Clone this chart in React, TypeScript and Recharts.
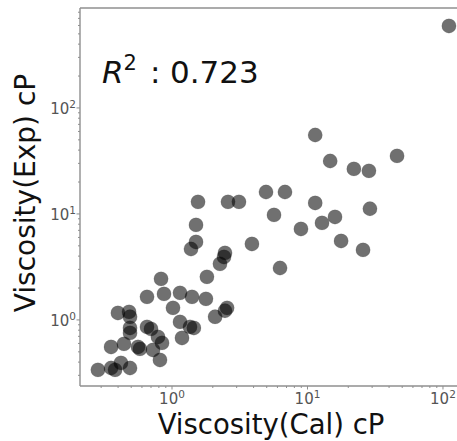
import React from 'react';
import { ScatterChart, Scatter, XAxis, YAxis, Customized } from 'recharts';

const calViscosity = [110.7, 11.4, 14.7, 22.0, 28.4, 45.8, 1.556, 2.59, 3.12, 4.94, 6.82, 11.4, 28.9, 15.96, 12.8, 5.66, 8.95, 17.7, 25.7, 1.504, 1.504, 1.381, 3.89, 2.46, 2.42, 2.26, 6.27, 1.81, 1.405, 1.78, 2.55, 2.46, 2.08, 1.358, 1.45, 0.83, 0.654, 0.873, 1.146, 0.399, 0.482, 0.49, 1.017, 0.49, 0.49, 0.654, 0.70, 0.788, 0.844, 1.146, 1.185, 0.355, 0.442, 0.561, 0.58, 0.724, 0.815, 0.284, 0.355, 0.38, 0.42, 0.49];
const expViscosity = [594, 55.6, 31.6, 26.6, 25.5, 35.3, 13.0, 13.0, 13.0, 16.1, 16.1, 12.7, 11.2, 9.37, 8.23, 9.79, 7.22, 5.56, 4.58, 7.88, 5.44, 4.67, 5.21, 4.29, 3.93, 3.38, 3.09, 2.55, 1.65, 1.58, 1.30, 1.22, 1.07, 0.859, 0.84, 2.44, 1.65, 1.76, 1.80, 1.164, 1.19, 1.07, 1.30, 0.84, 0.754, 0.859, 0.823, 0.691, 0.607, 0.958, 0.676, 0.556, 0.594, 0.556, 0.533, 0.521, 0.419, 0.338, 0.352, 0.338, 0.393, 0.352];

const xDomain = [0.2094, 126.9];
const yDomain = [0.238, 877];
const xTicks = [0.3, 0.4, 0.5, 0.6, 0.7, 0.8, 0.9, 1, 2, 3, 4, 5, 6, 7, 8, 9, 10, 20, 30, 40, 50, 60, 70, 80, 90, 100];
const yTicks = [0.3, 0.4, 0.5, 0.6, 0.7, 0.8, 0.9, 1, 2, 3, 4, 5, 6, 7, 8, 9, 10, 20, 30, 40, 50, 60, 70, 80, 90, 100, 200, 300, 400, 500, 600, 700, 800];

const r2Text = '0.723';
const xLabel = 'Viscosity(Cal) cP';
const yLabel = 'Viscosity(Exp) cP';

const data = calViscosity.map((x, i) => ({ x, y: expViscosity[i] }));

const FONT = 'DejaVu Sans, sans-serif';
const SPINE = '#8f8f8f';

const tickInfo = (v: number) => {
  const lg = Math.log10(v);
  const e = Math.round(lg);
  return { e, major: Math.abs(lg - e) < 1e-6 };
};

const XTick = (props: any) => {
  const { x, y, payload } = props;
  const { e, major } = tickInfo(payload.value);
  const len = major ? 3.5 : 2;
  return (
    <g>
      <line x1={x} x2={x} y1={y} y2={y + len} stroke={SPINE} strokeWidth={1} />
      {major && (
        <text x={x} y={y + 18} textAnchor="middle" fontSize={15} fill="#555" fontFamily={FONT}>
          10<tspan dy={-6} fontSize={10.5}>{e}</tspan>
        </text>
      )}
    </g>
  );
};

const YTick = (props: any) => {
  const { x, y, payload } = props;
  const { e, major } = tickInfo(payload.value);
  const len = major ? 3.5 : 2;
  return (
    <g>
      <line x1={x} x2={x - len} y1={y} y2={y} stroke={SPINE} strokeWidth={1} />
      {major && (
        <text x={x - 4} y={y + 6} textAnchor="end" fontSize={15} fill="#555" fontFamily={FONT}>
          10<tspan dy={-6} fontSize={10.5}>{e}</tspan>
        </text>
      )}
    </g>
  );
};

const Dot = (props: any) => (
  <circle cx={props.cx} cy={props.cy} r={7.2} fill="#000" fillOpacity={0.56} stroke="#000" strokeOpacity={0.1} strokeWidth={0.8} />
);

const Texts = (props: any) => {
  const off = props.offset || { left: 80, top: 8, width: 377 };
  return (
    <g>
      <line x1={off.left} x2={off.left + off.width} y1={off.top} y2={off.top} stroke={SPINE} strokeWidth={1.4} />
      <text x={102} y={83} fontSize={31} fontFamily={FONT} fill="#111">
        <tspan fontStyle="italic">R</tspan>
        <tspan dy={-13} fontSize={21}>2</tspan>
        <tspan x={150} dy={13}>:</tspan>
        <tspan x={170}>{r2Text}</tspan>
      </text>
      <text x={271} y={434} textAnchor="middle" fontSize={27.5} fontFamily={FONT} fill="#111">{xLabel}</text>
      <text transform="translate(35,193) rotate(-90)" textAnchor="middle" fontSize={28} fontFamily={FONT} fill="#111">{yLabel}</text>
    </g>
  );
};

export default function App() {
  return (
    <div style={{ position: 'absolute', left: 0, top: 0, background: '#fff' }}>
      <ScatterChart width={457} height={441} margin={{ top: 8, right: 0, bottom: 0, left: 0 }}>
        <XAxis
          dataKey="x"
          type="number"
          scale="log"
          domain={xDomain}
          allowDataOverflow
          ticks={xTicks}
          interval={0}
          tickSize={0}
          tickMargin={0}
          tickLine={false}
          tick={<XTick />}
          height={55}
          axisLine={{ stroke: SPINE, strokeWidth: 1.4 }}
        />
        <YAxis
          dataKey="y"
          type="number"
          scale="log"
          domain={yDomain}
          allowDataOverflow
          ticks={yTicks}
          interval={0}
          tickSize={0}
          tickMargin={0}
          tickLine={false}
          tick={<YTick />}
          width={80}
          axisLine={{ stroke: SPINE, strokeWidth: 1.4 }}
        />
        <Scatter data={data} shape={<Dot />} isAnimationActive={false} />
        <Customized component={Texts} />
      </ScatterChart>
    </div>
  );
}
